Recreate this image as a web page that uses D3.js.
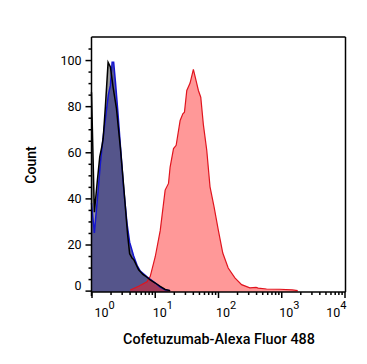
<!DOCTYPE html>
<html><head><meta charset="utf-8">
<script src="https://cdn.jsdelivr.net/npm/d3@7"></script>
<style>
body{margin:0;background:#fff;}
svg{display:block;font-family:Roboto,"DejaVu Sans",sans-serif;}
</style></head>
<body>
<svg id="chart" width="367" height="364"></svg>
<script>
// Fluorescence intensity (x) and count (y) for each histogram
const blackX = [1.0, 1.11, 1.23, 1.35, 1.47, 1.53, 1.66, 1.83, 1.99, 2.20, 2.48, 2.86, 3.23, 3.73, 4.01, 4.40, 4.64, 5.56, 6.5, 7.54, 8.49, 10.2, 12.2, 14.6, 17.5];
const blackY = [86, 34, 47, 58, 63, 66, 80, 99, 97, 88, 79, 62, 45, 24, 16, 14, 13.5, 9, 7, 5.8, 4.6, 3.3, 1.8, 0.5, 0];
const blueX  = [1.0, 1.11, 1.26, 1.38, 1.52, 1.72, 1.85, 1.99, 2.12, 2.24, 2.40, 2.62, 2.86, 3.23, 3.65, 4.01, 4.64, 5.25, 5.91, 7.54, 10.2, 12.2, 14.6, 17.5];
const blueY  = [38, 25, 42, 55, 66, 78, 85, 89, 99, 99, 90, 77, 63, 44, 29, 21, 15, 11, 8.5, 6, 3.3, 1.5, 0.4, 0];
const redX   = [4.11, 5.56, 7.54, 8.49, 10.2, 12.2, 14.6, 16.5, 17.5, 19.8, 21.8, 25.2, 27.8, 29.5, 32.1, 36.2, 40.8, 45.1, 49.0, 53.4, 58.7, 66.4, 74.8, 86.5, 101, 119, 145, 185, 236, 319, 400, 432, 585, 947, 1500, 1820];
const redY   = [0.3, 1.9, 3.8, 6.2, 14.8, 26, 43.6, 46.5, 53.6, 61.6, 63, 73.8, 76.7, 77.4, 86.8, 90, 96, 91, 86.8, 83.9, 72, 60.9, 45, 36.4, 26.3, 16.3, 9.8, 5.5, 2.6, 1.2, 1.4, 1.1, 0.7, 0.6, 0.3, 0];
const yMajor = [0, 20, 40, 60, 80, 100];
const yMinor = [5, 10, 15, 25, 30, 35, 45, 50, 55, 65, 70, 75, 85, 90, 95, 105];
const xMajor = [1, 10, 100, 1000, 10000];
const xLabelExp = ["0", "1", "2", "3", "4"];
const xTitle = "Cofetuzumab-Alexa Fluor 488";
const yTitle = "Count";

const svg = d3.select("#chart");
const L = 91.5, R = 344.5, T = 37, B = 292;
const x = d3.scaleLog().domain([1, 10000]).range([L, R]);
const y = d3.scaleLinear().domain([-0.6, 110]).range([B, T]);

const xMinor = [];
for (let e = 0; e < 4; e++) for (let m = 2; m <= 9; m++) xMinor.push(m * Math.pow(10, e));

function series(xs, ys) { return xs.map((v, i) => [v, ys[i]]); }
const area = d3.area().x(d => x(d[0])).y0(B).y1(d => y(d[1]));
const line = d3.line().x(d => x(d[0])).y(d => y(d[1]));

const g = svg.append("g");
const blk = series(blackX, blackY), blu = series(blueX, blueY), red = series(redX, redY);

g.append("path").datum(blk).attr("d", area).attr("fill", "#9a9a9a");
g.append("path").datum(blu).attr("d", area).attr("fill", "#4f4f8a").attr("fill-opacity", 0.92);
g.append("path").datum(red).attr("d", area).attr("fill", "#ff1a1a").attr("fill-opacity", 0.45);
g.append("path").datum(red).attr("d", line).attr("fill", "none").attr("stroke", "#e0141e").attr("stroke-width", 1.2);
g.append("path").datum(blu).attr("d", line).attr("fill", "none").attr("stroke", "#1515d0").attr("stroke-width", 1.5);
g.append("path").datum(blk).attr("d", line).attr("fill", "none").attr("stroke", "#000").attr("stroke-width", 1.5);

// frame
svg.append("line").attr("x1", L).attr("x2", R + 1).attr("y1", T).attr("y2", T).attr("stroke", "#000").attr("stroke-width", 1.5);
svg.append("line").attr("x1", R + 1).attr("x2", R + 1).attr("y1", T).attr("y2", B).attr("stroke", "#000").attr("stroke-width", 1.5);

// y axis
const yAx = svg.append("g").attr("transform", `translate(${L},0)`)
  .call(d3.axisLeft(y).tickValues(yMajor).tickSize(6).tickSizeOuter(0).tickPadding(4));
svg.append("g").attr("transform", `translate(${L},0)`)
  .call(d3.axisLeft(y).tickValues(yMinor).tickSize(3).tickSizeOuter(0).tickFormat(""))
  .select(".domain").remove();
yAx.select(".domain").attr("d", `M0,${T}V${B + 4}`);

// x axis
const xAx = svg.append("g").attr("transform", `translate(0,${B})`)
  .call(d3.axisBottom(x).tickValues(xMajor).tickSize(6).tickSizeOuter(0).tickFormat(""));
svg.append("g").attr("transform", `translate(0,${B})`)
  .call(d3.axisBottom(x).tickValues(xMinor).tickSize(3).tickSizeOuter(0).tickFormat(""))
  .select(".domain").remove();
xAx.select(".domain").attr("d", `M${L},0H${R + 1}`);

svg.selectAll(".domain, .tick line").attr("stroke", "#000").attr("stroke-width", 1.5);
yAx.selectAll(".tick text").attr("font-size", 12.5).attr("fill", "#000").attr("font-family", "Roboto")
  .attr("dy", d => d === 0 ? "-0.05em" : "0.32em");

// x tick labels with superscripts
xMajor.forEach((v, i) => {
  let px = x(v), anchor = "start";
  if (i === 0) px = px + 3;
  else if (i === xMajor.length - 1) { px = px + 2; anchor = "end"; }
  else px = px - 2;
  const t = svg.append("text").attr("x", px).attr("y", B + 25).attr("text-anchor", anchor)
    .attr("font-size", 12.5).attr("fill", "#000");
  t.append("tspan").text("10");
  t.append("tspan").attr("dy", -8).attr("font-size", 11).text(xLabelExp[i]);
});

// titles
svg.append("text").attr("x", 219).attr("y", 344).attr("text-anchor", "middle")
  .attr("font-size", 14.4).attr("font-weight", 500).attr("fill", "#000").text(xTitle);
svg.append("text").attr("transform", "translate(36,165) rotate(-90)").attr("text-anchor", "middle")
  .attr("font-size", 14).attr("font-weight", 500).attr("fill", "#000").text(yTitle);
</script>
</body></html>
